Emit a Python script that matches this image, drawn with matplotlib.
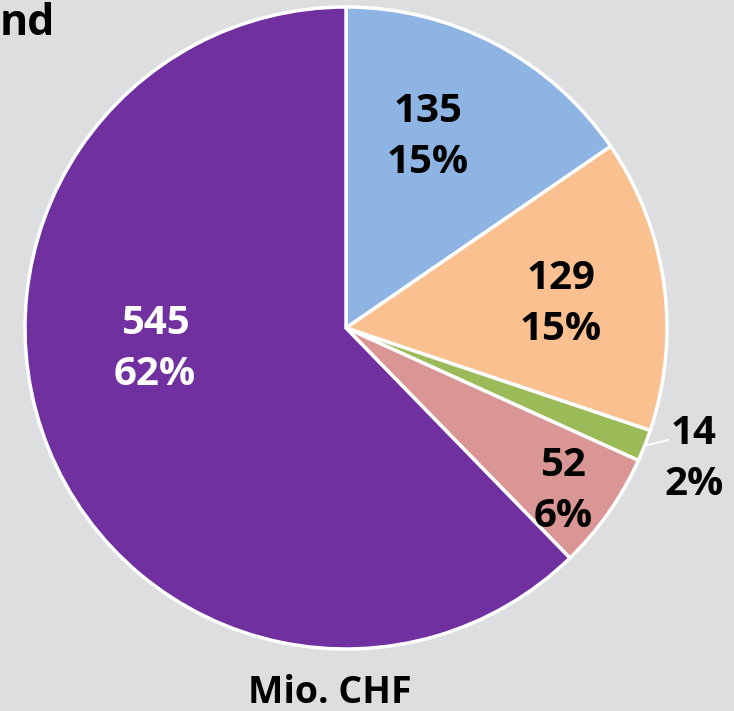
import matplotlib
matplotlib.use("Agg")
import matplotlib.pyplot as plt

values = [135, 129, 14, 52, 545]
percents = ["15%", "15%", "2%", "6%", "62%"]
colors = ["#8eb4e3", "#fac090", "#9bbb59", "#d99694", "#7030a0"]
label_colors = ["black", "black", "black", "black", "white"]
# label positions in pixel coordinates (x, y from top)
label_pos = [(428, 137), (561, 304), (694, 459), (563, 491), (155, 349)]

bg = "#dddee0"
W, H = 734, 711
fig = plt.figure(figsize=(W / 100, H / 100), dpi=100, facecolor=bg)
ax = fig.add_axes([0, 0, 1, 1])
ax.set_facecolor(bg)

cx, cy, r = 346, H - 328, 321
ax.pie(values, colors=colors, startangle=90, counterclock=False,
       center=(cx, cy), radius=r, frame=True,
       wedgeprops=dict(edgecolor="white", linewidth=2.5))
ax.set_xlim(0, W)
ax.set_ylim(0, H)
ax.set_aspect("equal")
ax.axis("off")

font = "Open Sans"
for v, p, (x, y), c in zip(values, percents, label_pos, label_colors):
    ax.text(x, H - y, f"{v}\n{p}", ha="center", va="center", color=c,
            fontsize=29, fontweight="bold", family=font, linespacing=1.38)

# leader line for small slice
ax.plot([648, 668], [H - 445, H - 440], color="white", lw=1.5)

ax.text(0, H - 35, "nd", ha="left", va="baseline", fontsize=31,
        fontweight="bold", family=font, color="black")
ax.text(330, H - 693, "Mio. CHF", ha="center", va="center", fontsize=27,
        fontweight="bold", family=font, color="black")

fig.savefig("out.png", dpi=100, facecolor=bg)
